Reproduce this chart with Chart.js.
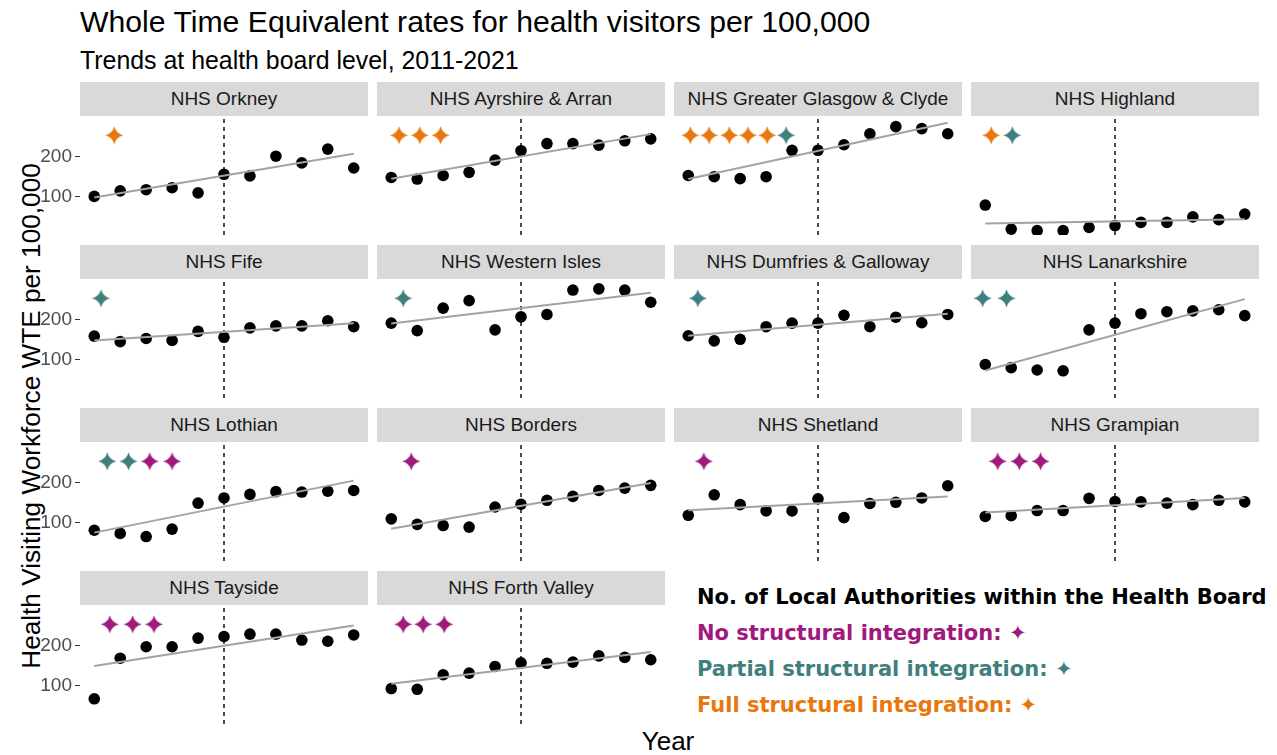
<!DOCTYPE html>
<html>
<head>
<meta charset="utf-8">
<script src="https://cdn.jsdelivr.net/npm/chart.js@4.4.1/dist/chart.umd.min.js"></script>
<style>
    body { margin: 0; background: #fff; width: 1277px; height: 755px; position: relative; overflow: hidden;
           font-family: "Liberation Sans", Arial, sans-serif; }
    .txt { position: absolute; white-space: nowrap; color: #000; }
    .strip { position: absolute; background: #d9d9d9; color: #1a1a1a; font-size: 19px; text-align: center;
             height: 34px; line-height: 34px; white-space: nowrap; }
    .panel { position: absolute; }
    .legend { position: absolute; font-family: "DejaVu Sans", Verdana, sans-serif; font-weight: bold;
              font-size: 21px; line-height: 36px; white-space: nowrap; }
</style>
</head>
<body>
<div class="txt" style="left:80px; top:5px; font-size:30.2px; line-height:34px;">Whole Time Equivalent rates for health visitors per 100,000</div>
<div class="txt" style="left:80px; top:46px; font-size:24.9px; line-height:28px;">Trends at health board level, 2011-2021</div>
<div class="txt" style="left:31px; top:416px; font-size:26.2px; line-height:28px; transform:translate(-50%,-50%) rotate(-90deg);">Health Visiting Workforce WTE per 100,000</div>
<div class="txt" style="left:668px; top:741px; font-size:26px; line-height:28px; transform:translate(-50%,-50%);">Year</div>

<div class="legend" style="left:697px; top:579px;">
    <div style="color:#000;">No. of Local Authorities within the Health Board</div>
    <div style="color:#a0197d;">No structural integration: ✦</div>
    <div style="color:#3f7f7d;">Partial structural integration: ✦</div>
    <div style="color:#e8770e;">Full structural integration: ✦</div>
</div>

<script>
// Health boards, in facet order
const boards = ['NHS Orkney', 'NHS Ayrshire & Arran', 'NHS Greater Glasgow & Clyde', 'NHS Highland',
    'NHS Fife', 'NHS Western Isles', 'NHS Dumfries & Galloway', 'NHS Lanarkshire',
    'NHS Lothian', 'NHS Borders', 'NHS Shetland', 'NHS Grampian',
    'NHS Tayside', 'NHS Forth Valley'];
const years = [2011, 2012, 2013, 2014, 2015, 2016, 2017, 2018, 2019, 2020, 2021];

// WTE per 100,000 by year
const orkney    = [100, 114, 117, 122, 109, 156, 152, 202, 185, 220, 172];
const ayrshire  = [148, 144, 153, 161, 192, 216, 234, 234, 230, 241, 246];
const glasgow   = [153, 150, 145, 150, 217, 217, 231, 259, 277, 272, 259];
const highland  = [78, 17, 13, 13, 21, 26, 34, 34, 48, 41, 55];
const fife      = [159, 145, 153, 148, 171, 156, 180, 185, 185, 198, 183];
const westIsles = [192, 173, 230, 249, 175, 208, 214, 276, 279, 276, 245];
const dumfries  = [160, 147, 151, 183, 192, 192, 212, 183, 207, 193, 214];
const lanark    = [87, 79, 73, 71, 175, 192, 216, 221, 223, 226, 211];
const lothian   = [80, 72, 64, 83, 149, 162, 171, 178, 177, 179, 181];
const borders   = [109, 95, 92, 88, 139, 146, 156, 166, 181, 187, 194];
const shetland  = [118, 170, 145, 129, 129, 160, 112, 148, 151, 162, 193];
const grampian  = [115, 117, 130, 130, 161, 153, 152, 149, 145, 156, 152];
const tayside   = [66, 169, 198, 198, 220, 224, 230, 230, 215, 212, 228];
const forth     = [92, 90, 127, 131, 148, 157, 156, 159, 175, 171, 165];

// linear trend (value at 2011 and at 2021)
const trendStart = [97, 145, 144, 31, 148, 191, 160, 72, 74, 84, 131, 125, 149, 104];
const trendEnd   = [208, 258, 287, 42, 192, 269, 216, 253, 206, 200, 166, 162, 252, 185];

// one star per local authority: N = none, P = partial, F = full structural integration
const integration = ['F', 'FFF', 'FFFFFP', 'FP', 'P', 'P', 'P', 'PP', 'PPNN', 'N', 'N', 'NNN', 'NNN', 'NNN'];
const starYears = [
    [2011.77], [2011.3, 2012.1, 2012.9], [2011.08, 2011.8, 2012.58, 2013.3, 2014.04, 2014.77], [2011.23, 2012.04],
    [2011.26], [2011.46], [2011.37], [2010.9, 2011.82],
    [2011.5, 2012.32, 2013.14, 2014.0], [2011.77], [2011.6], [2011.48, 2012.31, 2013.13],
    [2011.6, 2012.48, 2013.3], [2011.46, 2012.23, 2013.04]
];
const starLevel = 255;
const splitYear = 2016;
const yTicks = [100, 200];

const wteRates = [orkney, ayrshire, glasgow, highland, fife, westIsles, dumfries, lanark,
    lothian, borders, shetland, grampian, tayside, forth];

const starColors = { N: '#a0197d', P: '#3f7f7d', F: '#e8770e' };

const makeStar = (color, size) => {
    const c = document.createElement('canvas');
    c.width = size;
    c.height = size;
    const g = c.getContext('2d');
    const m = size / 2, r = size / 2 - 0.5, k = r * 0.2;
    g.fillStyle = color;
    g.beginPath();
    g.moveTo(m, m - r);
    g.quadraticCurveTo(m + k, m - k, m + r, m);
    g.quadraticCurveTo(m + k, m + k, m, m + r);
    g.quadraticCurveTo(m - k, m + k, m - r, m);
    g.quadraticCurveTo(m - k, m - k, m, m - r);
    g.fill();
    return c;
};
const starImgs = {};
Object.keys(starColors).forEach(key => { starImgs[key] = makeStar(starColors[key], 19); });

const colLeft = [80, 377, 674, 971];
const rowTop = [82, 245, 408, 571];
const panelW = 288, stripH = 34, panelH = 119;
const yMin = 2, yMax = 304;
const axisW = 40;

const makePanel = (i) => {
    const col = i % 4;
    const row = Math.floor(i / 4);

    const strip = document.createElement('div');
    strip.className = 'strip';
    strip.style.left = colLeft[col] + 'px';
    strip.style.top = rowTop[row] + 'px';
    strip.style.width = panelW + 'px';
    strip.textContent = boards[i];
    document.body.appendChild(strip);

    const showAxis = col === 0;
    const canvas = document.createElement('canvas');
    canvas.className = 'panel';
    const w = panelW + (showAxis ? axisW : 0);
    canvas.width = w;
    canvas.height = panelH;
    canvas.style.width = w + 'px';
    canvas.style.height = panelH + 'px';
    canvas.style.left = (colLeft[col] - (showAxis ? axisW : 0)) + 'px';
    canvas.style.top = (rowTop[row] + stripH) + 'px';
    document.body.appendChild(canvas);

    const types = integration[i].split('');

    new Chart(canvas.getContext('2d'), {
        type: 'scatter',
        data: {
            datasets: [
                {
                    // fitted trend
                    data: [{ x: years[0], y: trendStart[i] }, { x: years[years.length - 1], y: trendEnd[i] }],
                    showLine: true,
                    borderColor: '#a3a3a3',
                    borderWidth: 2,
                    pointRadius: 0,
                },
                {
                    data: years.map((yr, j) => ({ x: yr, y: wteRates[i][j] })),
                    backgroundColor: '#000',
                    borderColor: '#000',
                    pointRadius: 5.8,
                    borderWidth: 0,
                },
                {
                    data: starYears[i].map(x => ({ x: x, y: starLevel })),
                    pointStyle: (ctx) => starImgs[types[ctx.dataIndex]],
                },
                {
                    // integration year marker
                    data: [{ x: splitYear, y: yMin }, { x: splitYear, y: yMax }],
                    showLine: true,
                    borderColor: '#000',
                    borderWidth: 1.4,
                    borderDash: [4, 4],
                    pointRadius: 0,
                },
            ],
        },
        options: {
            responsive: false,
            animation: false,
            events: [],
            layout: { padding: 0, autoPadding: false },
            plugins: { legend: { display: false }, tooltip: { enabled: false } },
            scales: {
                x: { type: 'linear', min: 2010.45, max: 2021.55, display: false },
                y: {
                    type: 'linear',
                    min: yMin,
                    max: yMax,
                    display: showAxis,
                    afterFit: (scale) => {
                        scale.width = showAxis ? axisW : 0;
                        // keep the panel full height, labels are well inside it
                        scale.paddingTop = 0;
                        scale.paddingBottom = 0;
                    },
                    afterBuildTicks: (scale) => { scale.ticks = yTicks.map(v => ({ value: v })); },
                    border: { display: false },
                    grid: { drawOnChartArea: false, drawTicks: true, tickLength: 5, color: '#333333' },
                    ticks: {
                        color: '#4d4d4d',
                        padding: 3,
                        font: { family: '"Liberation Sans", Arial, sans-serif', size: 19 },
                    },
                },
            },
        },
    });
};

boards.forEach((b, i) => makePanel(i));
</script>
</body>
</html>
